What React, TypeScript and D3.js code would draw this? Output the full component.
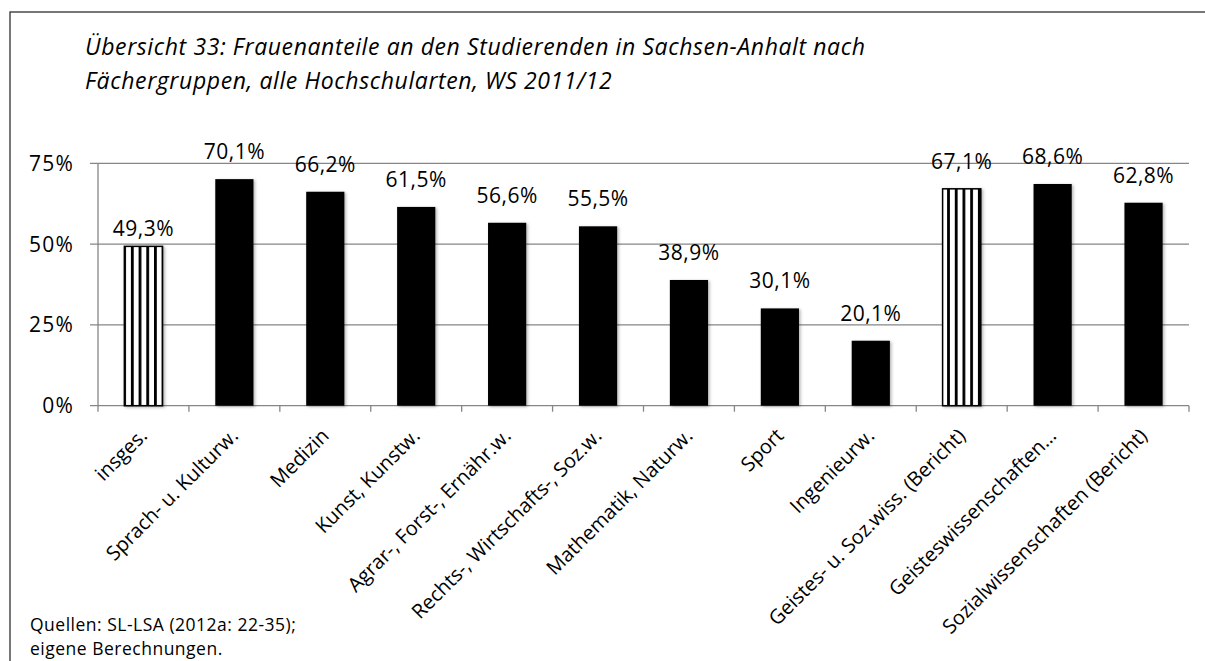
import React from "react";
import * as d3 from "d3";

const categories = [
  "insges.",
  "Sprach- u. Kulturw.",
  "Medizin",
  "Kunst, Kunstw.",
  "Agrar-, Forst-, Ernähr.w.",
  "Rechts-, Wirtschafts-, Soz.w.",
  "Mathematik, Naturw.",
  "Sport",
  "Ingenieurw.",
  "Geistes- u. Soz.wiss. (Bericht)",
  "Geisteswissenschaften…",
  "Sozialwissenschaften (Bericht)",
];
const values = [49.3, 70.1, 66.2, 61.5, 56.6, 55.5, 38.9, 30.1, 20.1, 67.1, 68.6, 62.8];
const striped = [true, false, false, false, false, false, false, false, false, true, false, false];
const yTicks = [0, 25, 50, 75];
const titleLines = [
  "Übersicht 33: Frauenanteile an den Studierenden in Sachsen-Anhalt nach",
  "Fächergruppen, alle Hochschularten, WS 2011/12",
];
const sourceLines = ["Quellen: SL-LSA (2012a: 22-35);", "eigene Berechnungen."];

const W = 1205;
const H = 661;
const FONT = "'Open Sans', sans-serif";

export default function App() {
  const x = d3.scaleBand<string>().domain(categories).range([98, 1189]).paddingInner(0.58).paddingOuter(0.29);
  const band = d3.scaleBand<string>().domain(categories).range([98, 1189]).padding(0);
  const y = d3.scaleLinear().domain([0, 75]).range([405.7, 163.3]);
  const fmt = (v: number) => v.toFixed(1).replace(".", ",") + "%";

  return (
    <svg width={W} height={H} style={{ position: "absolute", left: 0, top: 0, background: "#fff" }} fontFamily={FONT}>
      <defs>
        <pattern id="stripes" patternUnits="userSpaceOnUse" width={7.7} height={10} x={0}>
          <rect width={7.7} height={10} fill="#fff" />
          <rect x={0} width={2.8} height={10} fill="#000" />
        </pattern>
        <filter id="shadow" x="-20%" y="-5%" width="150%" height="115%">
          <feDropShadow dx={1.5} dy={1} stdDeviation={1.5} floodColor="#000" floodOpacity={0.3} />
        </filter>
      </defs>
      <rect x={0} y={0} width={W} height={H} fill="#fff" />
      <rect x={10} y={12} width={W + 10} height={H + 10} fill="none" stroke="#303030" strokeWidth={1.3} />

      {titleLines.map((t, i) => (
        <text key={i} x={85} y={55 + i * 34} fontSize={23} letterSpacing={0.6} fontStyle="italic" fill="#000">
          {t}
        </text>
      ))}

      {/* gridlines */}
      {yTicks.map((t) => (
        <g key={t}>
          <line x1={90} x2={1189} y1={y(t)} y2={y(t)} stroke="#868686" strokeWidth={1.3} />
          <text x={74} y={y(t) + 7.5} fontSize={21} letterSpacing={1.2} textAnchor="end" fill="#000">
            {t}%
          </text>
        </g>
      ))}
      <line x1={98} x2={98} y1={y(75)} y2={y(0)} stroke="#868686" strokeWidth={1.3} />
      {/* x ticks */}
      {categories.map((c) => (
        <line key={c} x1={band(c)!} x2={band(c)!} y1={y(0)} y2={y(0) + 6} stroke="#868686" strokeWidth={1.3} />
      ))}
      <line x1={1189} x2={1189} y1={y(0)} y2={y(0) + 6} stroke="#868686" strokeWidth={1.3} />

      {/* bars */}
      {categories.map((c, i) => {
        const bx = x(c)!;
        const bw = x.bandwidth();
        const top = y(values[i]);
        return (
          <g key={c}>
            <rect
              x={bx}
              y={top}
              width={bw}
              height={y(0) - top}
              fill={striped[i] ? "url(#stripes)" : "#000"}
              stroke="#000"
              strokeWidth={striped[i] ? 1.5 : 0}
              filter="url(#shadow)"
            />
            <text
              x={bx + bw / 2}
              y={top - (i === 0 ? 10 : 20)}
              fontSize={21}
              letterSpacing={0.5}
              textAnchor="middle"
              fill="#000"
            >
              {fmt(values[i])}
            </text>
          </g>
        );
      })}

      {/* x labels */}
      {categories.map((c) => {
        const cx = band(c)! + band.bandwidth() / 2;
        return (
          <text
            key={c}
            transform={`translate(${cx + 5},${437}) rotate(-45)`}
            textAnchor="end"
            fontSize={20}
            fill="#000"
          >
            {c}
          </text>
        );
      })}

      {sourceLines.map((t, i) => (
        <text key={i} x={30} y={631 + i * 24} fontSize={17.5} letterSpacing={0.5} fill="#000">
          {t}
        </text>
      ))}
    </svg>
  );
}
